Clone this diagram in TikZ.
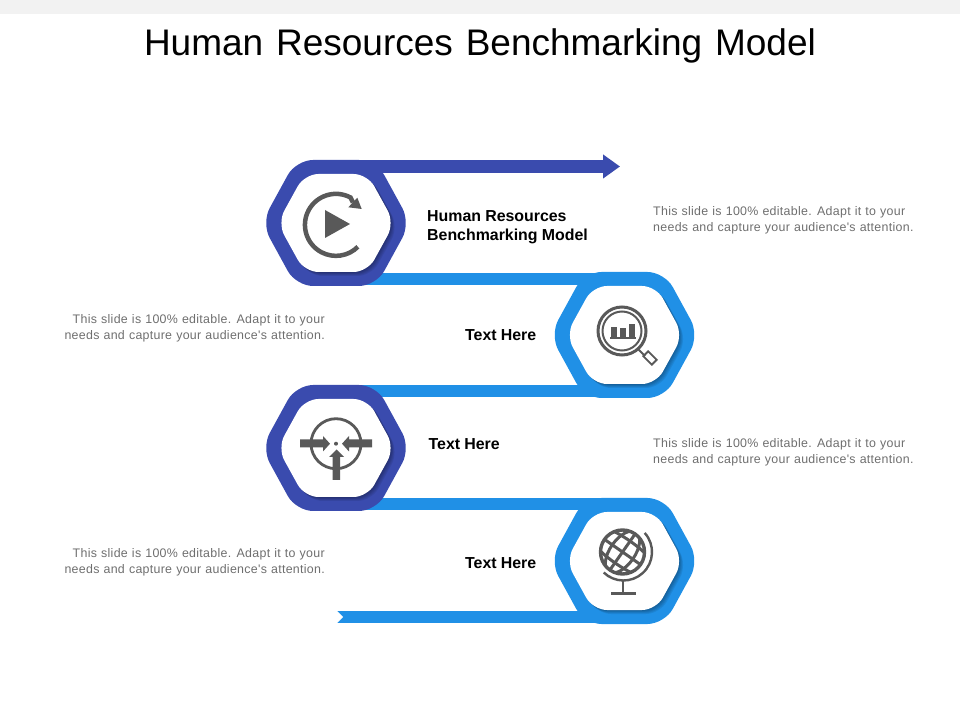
\documentclass[tikz,border=0pt]{standalone}
\usepackage{fontspec}
\setmainfont[WordSpace=1.25]{Liberation Sans}
\newfontfamily\bodyfont[LetterSpace=2.4,WordSpace=1.1]{Liberation Sans}
\newfontfamily\headfont[WordSpace=0.95]{Liberation Sans}
\usetikzlibrary{arrows.meta}
\definecolor{hexdark}{HTML}{3A4BAE}
\definecolor{hexlight}{HTML}{2090E6}
\definecolor{icongray}{HTML}{595959}
\definecolor{bodygray}{HTML}{6E6E6E}
\newcommand{\hexpath}[3]{(0,#2) -- (#3,#2) -- (#1,0) -- (#3,-#2) -- (-#3,-#2) -- (-#1,0) -- (-#3,#2) -- cycle}
\tikzset{
  hexring/.pic={
    \path[pic actions, rounded corners=17pt] \hexpath{74.5}{63}{40};
    \foreach \s in {0.8,1.6,2.4,3.2,4.0}
      \fill[black, opacity=0.07, rounded corners=14pt, shift={(\s,-\s)}] \hexpath{58.5}{49}{31.5};
    \fill[white, rounded corners=14pt] \hexpath{58.5}{49}{31.5};
  },
  ribbon/.style={line width=12.5pt},
  heading/.style={font=\fontsize{15.9}{19}\selectfont\headfont\bfseries, inner sep=0pt, align=left},
  blurb/.style={font=\fontsize{12.4}{16}\selectfont\bodyfont, text=bodygray, inner sep=0pt},
  icon/.style={draw=icongray, fill=none},
  iconfill/.style={fill=icongray}
}
\begin{document}
\begin{tikzpicture}[x=1pt,y=1pt]
  \useasboundingbox (0,0) rectangle (960,720);
  \fill[black!5] (0,706) rectangle (960,720);
  \node (title) at (480,674.5) {\fontsize{37}{40}\selectfont Human Resources Benchmarking Model};

  \coordinate (hex1) at (336,497);
  \coordinate (hex2) at (624.5,385);
  \coordinate (hex3) at (336,272);
  \coordinate (hex4) at (624.5,159);
  \coordinate (tail) at (337,103);
  \coordinate (head) at (620,553.5);
  \begin{scope}[ribbon]
    \draw[hexdark, -{Triangle[length=17pt,width=23pt]}] (hex1 |- head) -- (head);
    \draw[hexlight] (336,441) -- (624.5,441);
    \draw[hexlight] (336,329) -- (624.5,329);
    \draw[hexlight] (336,216) -- (624.5,216);
    \draw[hexlight] (tail) -- (624.5,103);
  \end{scope}
  \fill[white] (336,96) -- (343,103) -- (336,110) -- cycle;

  \pic[fill=hexdark] at (hex1) {hexring};
  \pic[fill=hexlight] at (hex2) {hexring};
  \pic[fill=hexdark] at (hex3) {hexring};
  \pic[fill=hexlight] at (hex4) {hexring};

  % play icon
  \draw[icon, line width=4.5pt] (353,517.5) -- ++(-2.5,5) arc[start angle=62, end angle=315, radius=31];
  \fill[iconfill] (357.3,522.3) -- (361.7,511) -- (348.3,512.7) -- cycle;
  \fill[iconfill] (325,510) -- (350,496) -- (325,482) -- cycle;

  % magnifier icon
  \draw[icon, line width=3pt] (622,389) circle (24);
  \draw[icon, line width=2pt] (622,389) circle (19.5);
  \fill[iconfill] (611,382) rectangle (617,393);
  \fill[iconfill] (620,382) rectangle (626,391.5);
  \fill[iconfill] (629,382) rectangle (635,396);
  \draw[icon, line width=1.5pt] (610,382) -- (636,382);
  \draw[icon, line width=2pt] (638,371) -- (645,364);
  \draw[icon, line width=1.8pt, rotate around={-45:(650,362)}] (644,358.5) rectangle (656,365.5);

  % arrows icon
  \draw[icon, line width=2.8pt] (336,276.3) circle (25);
  \fill[iconfill] (336,276.3) circle (2);
  \fill[iconfill] (300,272.5) -- (323,272.5) -- (323,268.5) -- (330,276.3) -- (323,284) -- (323,280.5) -- (300,280.5) -- cycle;
  \fill[iconfill] (372,272.5) -- (349,272.5) -- (349,268.5) -- (342,276.3) -- (349,284) -- (349,280.5) -- (372,280.5) -- cycle;
  \fill[iconfill] (332.7,240) -- (332.7,263) -- (329,263) -- (336.5,270.5) -- (344,263) -- (340,263) -- (340,240) -- cycle;

  % globe icon
  \begin{scope}[shift={(622.5,168)}]
    \begin{scope}[rotate=-35]
      \clip (0,0) circle (23);
      \draw[icon, line width=3pt] (0,0) ellipse (12.5 and 24);
      \draw[icon, line width=3pt] (0,-24) -- (0,24);
      \draw[icon, line width=3pt] (-24,0) -- (24,0);
      \draw[icon, line width=3pt] (-24,11) .. controls (-10,14) and (10,14) .. (24,11);
      \draw[icon, line width=3pt] (-24,-11) .. controls (-10,-14) and (10,-14) .. (24,-11);
    \end{scope}
    \draw[icon, line width=3.4pt] (0,0) circle (22);
    \draw[icon, line width=2.4pt] (1,0) ++(42:28.5) arc[start angle=42, end angle=-134, radius=28.5];
  \end{scope}
  \draw[icon, line width=2.4pt] (623,139) -- (623,128);
  \draw[icon, line width=3pt] (611,127) -- (636,127);

  \node[heading, anchor=west] (label1) at (427,492.5) {Human Resources\\Benchmarking Model};
  \node[heading, anchor=west] (label2) at (465,385) {Text Here};
  \node[heading, anchor=west] (label3) at (428.5,276) {Text Here};
  \node[heading, anchor=west] (label4) at (465,157) {Text Here};

  \node[blurb, anchor=west, align=left] (note1) at (653,500) {This slide is 100\% editable. Adapt it to your\\needs and capture your audience's attention.};
  \node[blurb, anchor=east, align=right] (note2) at (325,392) {This slide is 100\% editable. Adapt it to your\\needs and capture your audience's attention.};
  \node[blurb, anchor=west, align=left] (note3) at (653,268) {This slide is 100\% editable. Adapt it to your\\needs and capture your audience's attention.};
  \node[blurb, anchor=east, align=right] (note4) at (325,158) {This slide is 100\% editable. Adapt it to your\\needs and capture your audience's attention.};
\end{tikzpicture}
\end{document}
